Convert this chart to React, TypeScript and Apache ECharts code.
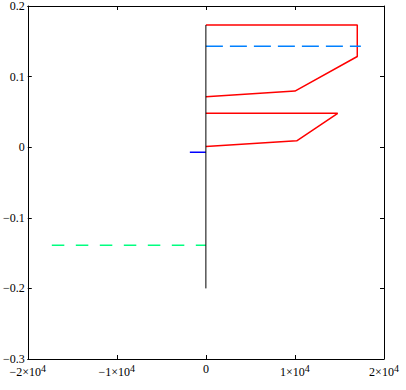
import React, { useEffect, useRef } from "react";
import * as echarts from "echarts";

// Axis ranges / ticks
const xMin = -20000;
const xMax = 20000;
const xStep = 10000;
const yMin = -0.3;
const yMax = 0.2;
const yStep = 0.1;

// Black vertical trace
const stemX = [0, 0];
const stemY = [0.173, -0.2];

// Upper red outline
const upperX = [0, 17000, 17000, 10000, 0];
const upperY = [0.173, 0.173, 0.1285, 0.0795, 0.0715];

// Lower red outline
const lowerX = [0, 14800, 10200, 0];
const lowerY = [0.048, 0.048, 0.009, 0.001];

// Blue dashed level
const blueDashX = [0, 17400];
const blueDashY = [0.143, 0.143];

// Short blue solid segment
const blueSolidX = [-1800, 0];
const blueSolidY = [-0.0073, -0.0073];

// Green dashed level
const greenX = [-17300, 0];
const greenY = [-0.139, -0.139];

const zip = (xs: number[], ys: number[]) => xs.map((x, i) => [x, ys[i]]);

const FONT = "'Liberation Serif', 'Times New Roman', serif";

function xLabel(v: number): string {
  if (v === 0) return "{b|0}";
  const m = Math.round(v / 10000);
  const sign = m < 0 ? "\u2212" : "";
  return `{b|${sign}${Math.abs(m)}\u00d710}{s|4}`;
}

function yLabel(v: number): string {
  const r = Math.round(v * 10) / 10;
  if (r === 0) return "0";
  if (r < 0) return "\u2212" + Math.abs(r).toFixed(1);
  return r.toFixed(1);
}

export default function App() {
  const ref = useRef<HTMLDivElement>(null);
  useEffect(() => {
    if (!ref.current) return;
    const chart = echarts.init(ref.current, undefined, { renderer: "svg" });
    const axisLine = { show: true, onZero: false, lineStyle: { color: "#000", width: 1 } };
    const tick = { show: true, inside: true, length: 4, lineStyle: { color: "#000", width: 1 } };
    const line = (data: number[][], color: string, width: number, type: any = "solid") => ({
      type: "line",
      data,
      showSymbol: false,
      symbol: "none",
      lineStyle: { color, width, type },
      silent: true,
    });
    chart.setOption({
      animation: false,
      backgroundColor: "#fff",
      textStyle: { fontFamily: FONT },
      grid: { left: 25, right: 22, top: 6, bottom: 31, containLabel: false },
      xAxis: [
        {
          type: "value",
          min: xMin,
          max: xMax,
          interval: xStep,
          position: "bottom",
          axisLine,
          axisTick: tick,
          splitLine: { show: false },
          axisLabel: {
            margin: 4,
            formatter: xLabel,
            fontFamily: FONT,
            rich: {
              b: { fontFamily: FONT, fontSize: 12, color: "#000" },
              s: { fontFamily: FONT, fontSize: 10, color: "#000", padding: [0, 0, 7, 0] },
            },
          },
        },
        {
          type: "value",
          min: xMin,
          max: xMax,
          interval: xStep,
          position: "top",
          axisLine,
          axisTick: tick,
          splitLine: { show: false },
          axisLabel: { show: false },
        },
      ],
      yAxis: [
        {
          type: "value",
          min: yMin,
          max: yMax,
          interval: yStep,
          position: "left",
          axisLine,
          axisTick: tick,
          splitLine: { show: false },
          axisLabel: {
            margin: 3,
            formatter: yLabel,
            fontFamily: FONT,
            fontSize: 12,
            color: "#000",
          },
        },
        {
          type: "value",
          min: yMin,
          max: yMax,
          interval: yStep,
          position: "right",
          axisLine,
          axisTick: tick,
          splitLine: { show: false },
          axisLabel: { show: false },
        },
      ],
      series: [
        line(zip(upperX, upperY), "#ff0000", 1.5),
        line(zip(lowerX, lowerY), "#ff0000", 1.5),
        line(zip(blueDashX, blueDashY), "#0080ff", 1.5, [17, 7]),
        line(zip(greenX, greenY), "#00ff80", 1.5, [12.5, 11.5]),
        line(zip(blueSolidX, blueSolidY), "#0000ff", 1.5),
        line(zip(stemX, stemY), "#000000", 1),
      ],
    });
    return () => chart.dispose();
  }, []);
  return (
    <div
      ref={ref}
      style={{ position: "absolute", left: 0, top: 0, width: 406, height: 390, background: "#fff" }}
    />
  );
}
